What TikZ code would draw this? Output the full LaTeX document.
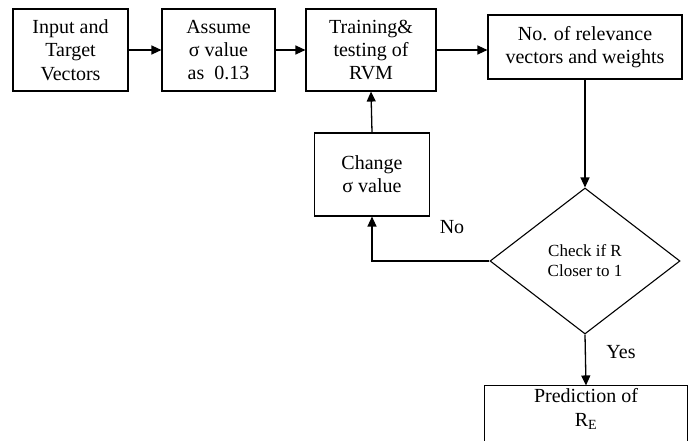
\documentclass[tikz,border=0pt]{standalone}
\usepackage{fontspec}
\setmainfont{Liberation Serif}
\usetikzlibrary{shapes.geometric,arrows.meta}
\begin{document}
\begin{tikzpicture}[x=1pt,y=-1pt,
  every node/.style={inner sep=0pt},
  box/.style={draw, line width=1.1pt, align=center, font=\fontsize{20}{23.3}\selectfont},
  dec/.style={draw, diamond, line width=1.1pt, align=center, font=\fontsize{17}{20}\selectfont},
  lbl/.style={font=\fontsize{20}{23}\selectfont},
  arr/.style={line width=1.3pt, -{Triangle[length=10pt,width=9pt]}},
  ln/.style={line width=1.1pt}]
\useasboundingbox (0,0) rectangle (688,441);
\clip (0,0) rectangle (688,441);
\node[box, minimum width=115, minimum height=82] (in) at (70.5,50) {Input and\\Target\\Vectors};
\node[box, minimum width=113, minimum height=82] (as) at (218.5,50) {Assume\\ σ value\\as\ \ 0.13};
\node[box, minimum width=130, minimum height=82] (tr) at (371,50) {Training\&\\testing of\\RVM};
\node[box, minimum width=194, minimum height=64] (rv) at (585,47) {No. of relevance\\vectors and weights};
\node[box, minimum width=115, minimum height=83] (ch) at (372,174.5) {Change\\σ value};
\node[dec, minimum width=190, minimum height=146] (dia) at (585,261) {Check if R\\Closer to 1};
\node[box, draw=none, minimum width=202, minimum height=46] (pr) at (586,409) {Prediction of\\R\textsubscript{E}};
\draw[ln] ([yshift=-30]pr.south west) -- (pr.north west) -- (pr.north east) -- ([yshift=-30]pr.south east);
\node[lbl] (no) at (452,227) {No};
\node[lbl] (yes) at (621,352) {Yes};
\draw[arr] (in.east) -- (as.west);
\draw[arr] (as.east) -- (tr.west);
\draw[arr] (tr.east) -- (tr.east -| rv.west);
\draw[arr] (rv.south) -- (dia.north);
\draw[arr] (dia.west) -| (ch.south);
\draw[arr] (ch.north) -- (tr.south);
\draw[arr] (dia.south) -- (pr.north);
\end{tikzpicture}
\end{document}
